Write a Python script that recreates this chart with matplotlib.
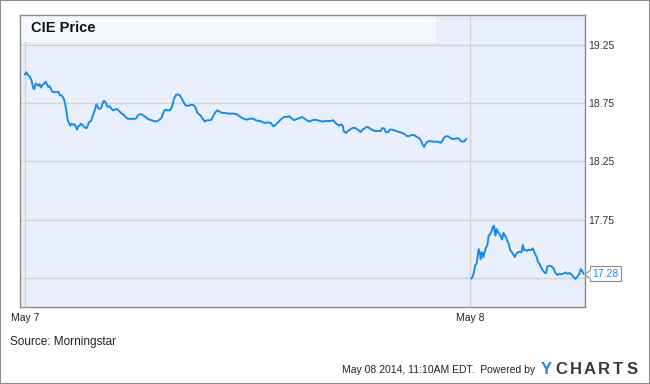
import matplotlib
matplotlib.use("Agg")
import matplotlib.pyplot as plt
from matplotlib.patches import Rectangle
from matplotlib.path import Path
from matplotlib.transforms import ScaledTranslation

plt.rcParams["font.family"] = ["Liberation Sans", "DejaVu Sans"]

# minutes after the 9:30 open (May 8 continues at 390), and CIE price
may7_min = [0, 1.2, 2.3, 4.1, 5.8, 7.3, 8.2, 9.3, 10.5, 11.7,
            12.8, 14.0, 15.2, 16.3, 18.1, 19.3, 20.4, 21.6, 22.8, 23.9,
            25.7, 27.4, 29.2, 30.4, 32.1, 33.8, 35.0, 36.2, 37.4, 38.5,
            39.7, 40.9, 42.0, 43.2, 44.4, 45.5, 46.7, 47.9, 49.0, 50.2,
            51.4, 52.5, 53.7, 54.9, 56.0, 57.8, 59.0, 60.1, 61.3, 62.5,
            63.6, 64.8, 66.5, 67.7, 68.9, 70.6, 71.8, 72.9, 74.1, 75.3,
            77.0, 78.8, 80.5, 82.3, 84.0, 85.8, 87.5, 89.3, 91.0, 93.4,
            95.7, 97.5, 98.6, 100.4, 102.1, 103.9, 105.6, 107.4, 109.1, 110.9,
            112.6, 114.4, 116.2, 117.9, 119.7, 120.8, 122.6, 124.3,
            126.9, 128.7, 130.4, 132.2, 133.9, 135.7, 137.4, 139.2, 140.9, 143.3,
            145.0, 147.4, 149.2, 150.9, 153.3, 155.0, 157.4, 159.1, 161.5, 163.2,
            165.0, 166.7, 168.5, 170.2, 172.6, 174.9, 177.2, 179.6, 182.5, 185.4,
            187.2, 189.5, 191.8, 194.2, 196.5, 198.8, 201.2, 203.5, 205.8, 208.2,
            210.5, 212.8, 215.2, 217.5, 219.8, 222.2, 224.5, 226.8, 229.2, 231.5,
            233.3, 235.6, 237.9, 240.3, 242.6, 244.4, 246.7, 249.0, 251.4, 253.7,
            256.0,
            258.3, 260.6, 263.0, 265.2, 267.6, 269.9, 271.7, 273.4, 275.2, 276.9,
            278.1, 279.2, 281.0, 282.7, 284.5, 286.2, 288.6, 290.3, 292.1, 293.9,
            295.6, 297.4, 299.1, 300.9, 302.6, 304.4, 306.7, 309.0, 311.4, 312.6,
            314.3, 316.1, 317.8, 319.6, 321.3, 323.1, 324.8, 326.6, 328.3, 330.1,
            331.8, 333.6, 335.3, 337.1, 338.8, 340.6, 342.3, 344.1, 345.9, 347.0,
            348.2, 349.4, 350.5, 352.3, 354.6, 357.0, 359.3, 361.6, 364.0, 365.7,
            366.9, 368.6, 370.4, 372.1, 373.9, 375.6, 378.0, 379.7, 381.5, 383.3,
            385.0, 386.2]
may7_price = [19.000, 19.017, 18.995, 18.983, 18.943, 18.877, 18.874, 18.920, 18.914, 18.903,
              18.914, 18.885, 18.908, 18.914, 18.937, 18.914, 18.891, 18.897, 18.874, 18.851,
              18.845, 18.845, 18.851, 18.822, 18.817, 18.794, 18.753, 18.690, 18.604, 18.581,
              18.558, 18.575, 18.564, 18.570, 18.553, 18.524, 18.553, 18.558, 18.575, 18.564,
              18.553, 18.541, 18.535, 18.558, 18.587, 18.598, 18.633, 18.662, 18.696, 18.742,
              18.719, 18.702, 18.708, 18.742, 18.771, 18.759, 18.725, 18.719, 18.725, 18.708,
              18.690, 18.696, 18.702, 18.685, 18.667, 18.656, 18.639, 18.621, 18.616, 18.616,
              18.616, 18.621, 18.644, 18.656, 18.656, 18.644, 18.633, 18.616, 18.610, 18.604,
              18.599, 18.593, 18.599, 18.610, 18.627, 18.662, 18.696, 18.690,
              18.690, 18.719, 18.788, 18.822, 18.828, 18.817, 18.788, 18.754, 18.730, 18.730,
              18.736, 18.736, 18.719, 18.667, 18.650, 18.627, 18.593, 18.604, 18.604, 18.610,
              18.644, 18.673, 18.690, 18.679, 18.667, 18.667, 18.662, 18.662, 18.662, 18.656,
              18.644, 18.627, 18.616, 18.610, 18.616, 18.621, 18.610, 18.599, 18.599, 18.587,
              18.581, 18.587, 18.581, 18.552, 18.570, 18.593, 18.616, 18.633, 18.633, 18.639,
              18.621, 18.604, 18.616, 18.621, 18.633, 18.621, 18.604, 18.593, 18.604, 18.610,
              18.604,
              18.598, 18.593, 18.598, 18.598, 18.598, 18.604, 18.581, 18.570, 18.558, 18.570,
              18.558, 18.507, 18.495, 18.512, 18.524, 18.535, 18.541, 18.530, 18.518, 18.501,
              18.524, 18.535, 18.547, 18.541, 18.530, 18.518, 18.512, 18.512, 18.512, 18.535,
              18.535, 18.501, 18.501, 18.524, 18.524, 18.518, 18.512, 18.507, 18.501, 18.495,
              18.489, 18.472, 18.466, 18.472, 18.478, 18.478, 18.466, 18.455, 18.443, 18.420,
              18.392, 18.375, 18.398, 18.420, 18.426, 18.420, 18.420, 18.420, 18.409, 18.432,
              18.455, 18.466, 18.466, 18.455, 18.443, 18.443, 18.449, 18.449, 18.426, 18.420,
              18.426, 18.443]

may8_min = [390.7, 391.9, 393.1, 394.3, 395.4, 396.6, 397.2, 398.4, 398.9, 400.1,
            401.3, 402.4, 403.6, 404.8, 405.9, 407.1, 408.3, 409.5, 410.6, 411.8,
            413.0, 414.1, 415.3, 416.5, 417.6, 418.8, 420.0, 421.2, 422.3, 423.5,
            424.7, 426.4, 427.6, 428.7, 429.9, 431.7, 433.4, 434.6, 435.8, 437.0,
            438.1, 439.3, 441.1, 442.8, 444.6, 445.7, 446.9, 448.1, 449.2, 450.4,
            451.6, 453.3, 455.1, 456.2, 457.4, 459.2, 460.9, 462.7, 464.4, 466.2,
            467.9, 469.7, 471.4, 473.2, 474.9, 476.7, 478.4, 480.2, 481.9, 483.7,
            485.4, 486.6, 487.8, 488.9]
may8_price = [17.244, 17.255, 17.301, 17.359, 17.370, 17.456, 17.496, 17.456, 17.410, 17.468,
              17.427, 17.473, 17.508, 17.531, 17.611, 17.623, 17.646, 17.686, 17.697, 17.611,
              17.669, 17.640, 17.628, 17.606, 17.577, 17.634, 17.617, 17.594, 17.565, 17.542,
              17.485, 17.468, 17.445, 17.427, 17.456, 17.468, 17.473, 17.468, 17.531, 17.485,
              17.491, 17.479, 17.491, 17.485, 17.502, 17.473, 17.445, 17.427, 17.381, 17.370,
              17.341, 17.313, 17.290, 17.290, 17.347, 17.353, 17.347, 17.330, 17.290, 17.272,
              17.284, 17.278, 17.284, 17.295, 17.284, 17.290, 17.278, 17.255, 17.238, 17.261,
              17.284, 17.324, 17.307, 17.284]

day_ticks = [0, 390]
day_labels = ["May 7", "May 8"]
price_ticks = [17.25, 17.75, 18.25, 18.75, 19.25]
price_labels = ["", "17.75", "18.25", "18.75", "19.25"]

LINE = "#1b8be8"
W, H = 650, 384

fig = plt.figure(figsize=(W / 100, H / 100), dpi=100)
fig.patch.set_facecolor("white")
ax = fig.add_axes([19.5 / W, 1 - 306.7 / H, 565.1 / W, 291.7 / H])
ax.set_facecolor("#e9f0fb")

ax.plot(may7_min, may7_price, color=LINE, lw=1.4, solid_joinstyle="round", zorder=3)
ax.plot(may8_min, may8_price, color=LINE, lw=1.4, solid_joinstyle="round", zorder=3)

ax.set_xlim(-4.8, 489.9)
ax.set_ylim(17.0, 19.51)

ax.set_xticks(day_ticks)
ax.set_xticklabels(day_labels)
ax.set_yticks(price_ticks)
ax.set_yticklabels(price_labels)
ax.yaxis.tick_right()
ax.tick_params(axis="x", length=0, pad=4.5, labelsize=7.5, labelcolor="#222222")
ax.tick_params(axis="y", length=0, pad=2.5, labelsize=7.5, labelcolor="#333333")
ax.grid(True, color="#d3d3d3", lw=1)
ax.set_axisbelow(True)
for sp in ax.spines.values():
    sp.set_color("#8a8a8a")
    sp.set_linewidth(1)

# title strip
ax.add_patch(Rectangle((0, 1 - 26.7 / 291.7), 416.5 / 565.1, 26.7 / 291.7,
                       transform=ax.transAxes, fc="#f5f8fe", ec="none", zorder=1))
ax.text(11.5 / 565.1, 1 - 13 / 291.7, "CIE Price", transform=ax.transAxes,
        fontsize=10.5, fontweight="bold", color="#111111", va="center", ha="left")

# last price flag: box plus an open chevron pointing at the line end
last = may8_price[-1]
ax.annotate(f"{last:.2f}", xy=(1, last), xycoords=("axes fraction", "data"),
            xytext=(5.7, 0), textcoords="offset points", va="center", ha="left",
            fontsize=7.5, color=LINE, annotation_clip=False, zorder=6,
            bbox=dict(boxstyle="square,pad=0.25", fc="white", ec="#8a8a8a", lw=0.8))
ptr = ax.get_yaxis_transform() + ScaledTranslation(1.93 / 72, 0, fig.dpi_scale_trans)
tri = Path([(0.667, 1), (-0.667, 0), (0.667, -1), (0.667, 1)],
           [Path.MOVETO, Path.LINETO, Path.LINETO, Path.CLOSEPOLY])
chev = Path([(0.667, 1), (-0.667, 0), (0.667, -1)],
            [Path.MOVETO, Path.LINETO, Path.LINETO])
ax.plot([1], [last], marker=tri, ms=5.8, mfc="white", mec="white", mew=0.9,
        transform=ptr, clip_on=False, zorder=7)
ax.plot([1], [last], marker=chev, ms=5.8, mfc="none", mec="#8a8a8a", mew=0.8,
        transform=ptr, clip_on=False, zorder=8)

fig.text(10 / W, 1 - 342 / H, "Source: Morningstar", fontsize=8.5, color="#222222",
         va="center", ha="left")
fig.text(535 / W, 1 - 370 / H, "May 08 2014, 11:10AM EDT.  Powered by", fontsize=7.5,
         color="#222222", va="center", ha="right")
fig.text(546.5 / W, 1 - 370 / H, "Y", fontsize=12, fontweight="bold", color=LINE,
         va="center", ha="center")
for i, ch in enumerate("CHARTS"):
    fig.text((561.5 + i * 14.2) / W, 1 - 370 / H, ch, fontsize=12, fontweight="bold",
             color="#3a3a3a", va="center", ha="center")

fig.add_artist(Rectangle((0, 0), 1, 1, transform=fig.transFigure, fill=False,
                         ec="#8c8c8c", lw=1.5))

fig.savefig("out.png", dpi=100)
